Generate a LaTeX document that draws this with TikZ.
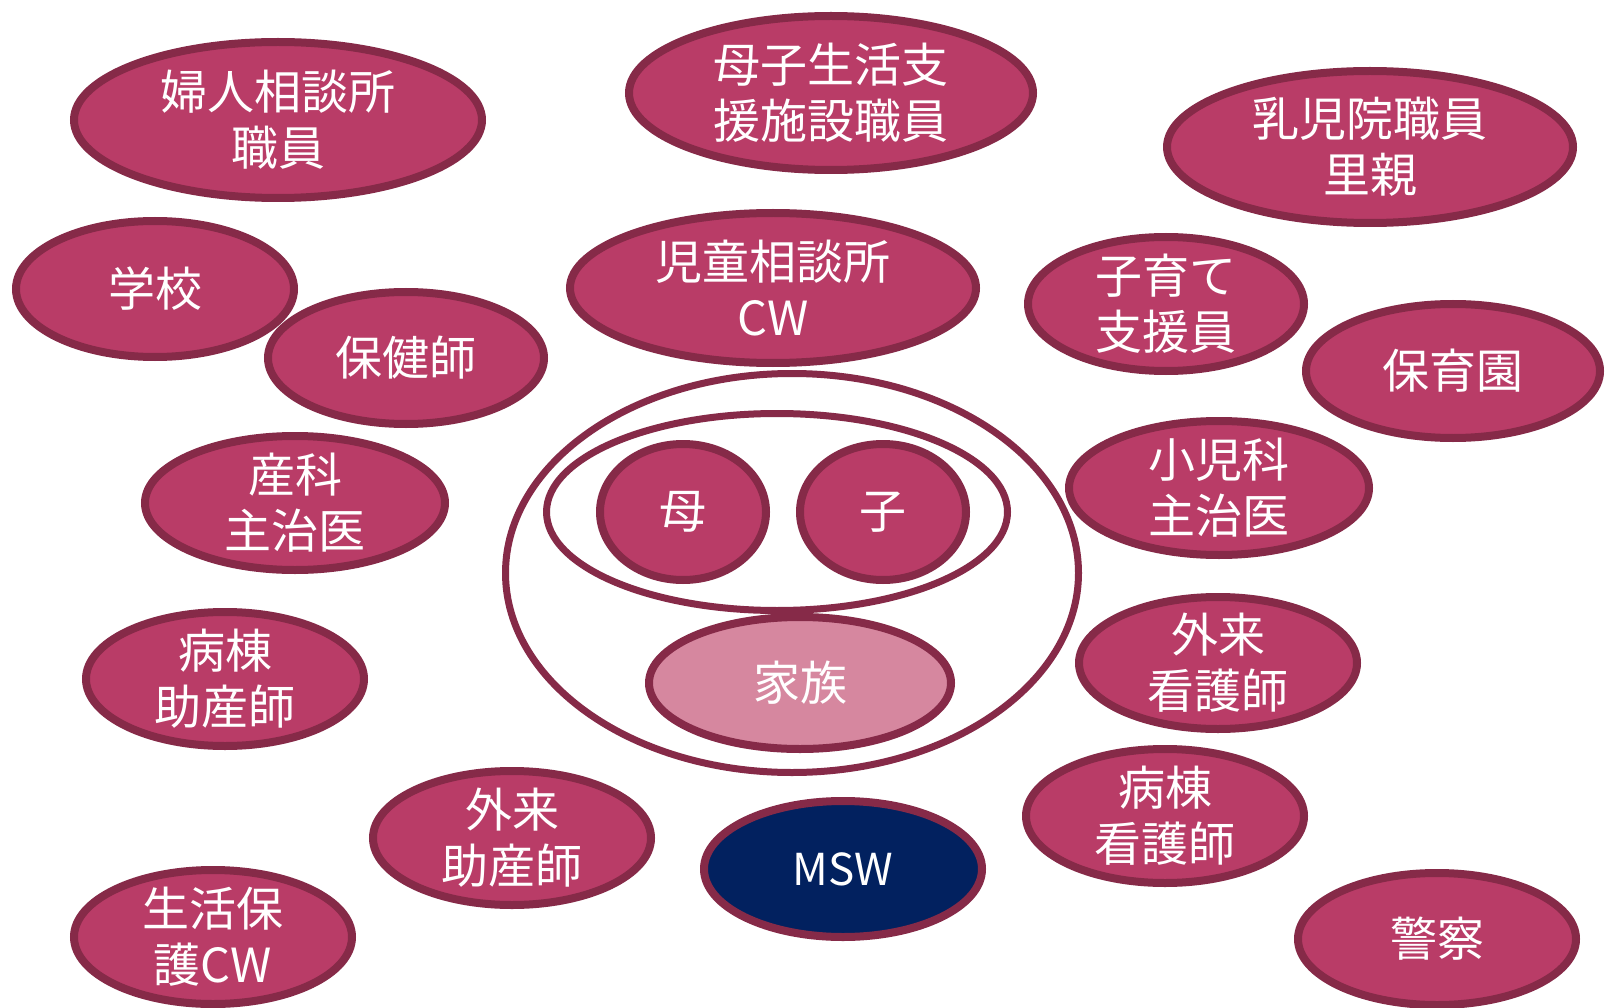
\documentclass[tikz,border=0pt]{standalone}
\usepackage{fontspec}
\setmainfont{Noto Sans CJK JP}
\usetikzlibrary{shapes.geometric}
\definecolor{rosefill}{HTML}{B93C67}
\definecolor{rim}{HTML}{862A48}
\definecolor{lightrose}{HTML}{D6879F}
\definecolor{navy}{HTML}{02215F}
\begin{document}
\begin{tikzpicture}[x=1pt,y=-1pt,
  oval/.style={ellipse, draw=rim, line width=8pt, fill=rosefill, inner sep=0pt},
  ring/.style={ellipse, draw=rim, line width=7pt, inner sep=0pt},
  txt/.style={text=white, align=center, inner sep=0pt, font=\fontsize{47}{56}\selectfont}]
\useasboundingbox[fill=white] (0,0) rectangle (1606,1008);

% central group
\node[ring, minimum width=573, minimum height=399] (outer) at (792,573) {};
\node[ring, minimum width=461, minimum height=197] (inner) at (777,512) {};
\node[oval, minimum width=166, minimum height=136] (haha) at (683,512) {};
\node[txt] (hahaT) at (haha) {母};
\node[oval, minimum width=166, minimum height=136] (ko) at (883,512) {};
\node[txt] (koT) at (ko) {子};
\node[oval, fill=lightrose, minimum width=302, minimum height=132] (kazoku) at (800,683) {};
\node[txt] (kazokuT) at (kazoku) {家族};

% surrounding bubbles
\node[oval, minimum width=408, minimum height=156] (fujin) at (278,120) {};
\node[txt] (fujinT) at (fujin) {婦人相談所\\職員};
\node[oval, minimum width=404, minimum height=154] (boshi) at (831,93) {};
\node[txt] (boshiT) at (boshi) {母子生活支\\援施設職員};
\node[oval, minimum width=406, minimum height=152] (nyuji) at (1370,147) {};
\node[txt] (nyujiT) at (nyuji) {乳児院職員\\里親};
\node[oval, minimum width=278, minimum height=136] (gakko) at (155,289) {};
\node[txt] (gakkoT) at (gakko) {学校};
\node[oval, minimum width=276, minimum height=132] (hoken) at (406,358) {};
\node[txt] (hokenT) at (hoken) {保健師};
\node[oval, minimum width=406, minimum height=150] (jido) at (773,288) {};
\node[txt] (jidoT) at (jido) {児童相談所\\CW};
\node[oval, minimum width=276, minimum height=134] (kosodate) at (1166,304) {};
\node[txt] (kosodateT) at (kosodate) {子育て\\支援員};
\node[oval, minimum width=294, minimum height=134] (hoikuen) at (1453,371) {};
\node[txt] (hoikuenT) at (hoikuen) {保育園};
\node[oval, minimum width=300, minimum height=134] (sanka) at (295,503) {};
\node[txt] (sankaT) at (sanka) {産科\\主治医};
\node[oval, minimum width=300, minimum height=134] (shoni) at (1219,488) {};
\node[txt] (shoniT) at (shoni) {小児科\\主治医};
\node[oval, minimum width=278, minimum height=134] (byotoJ) at (225,679) {};
\node[txt] (byotoJT) at (byotoJ) {病棟\\助産師};
\node[oval, minimum width=278, minimum height=132] (gairaiK) at (1218,663) {};
\node[txt] (gairaiKT) at (gairaiK) {外来\\看護師};
\node[oval, minimum width=278, minimum height=134] (gairaiJ) at (512,838) {};
\node[txt] (gairaiJT) at (gairaiJ) {外来\\助産師};
\node[oval, fill=navy, minimum width=278, minimum height=136] (msw) at (843,869) {};
\node[txt, font=\fontsize{44}{52}\selectfont] (mswT) at (msw) {MSW};
\node[oval, minimum width=278, minimum height=134] (byotoK) at (1165,816) {};
\node[txt] (byotoKT) at (byotoK) {病棟\\看護師};
\node[oval, minimum width=278, minimum height=134] (seikatsu) at (213,937) {};
\node[txt] (seikatsuT) at (seikatsu) {生活保\\護CW};
\node[oval, minimum width=278, minimum height=132] (keisatsu) at (1437,939) {};
\node[txt] (keisatsuT) at (keisatsu) {警察};
\end{tikzpicture}
\end{document}
